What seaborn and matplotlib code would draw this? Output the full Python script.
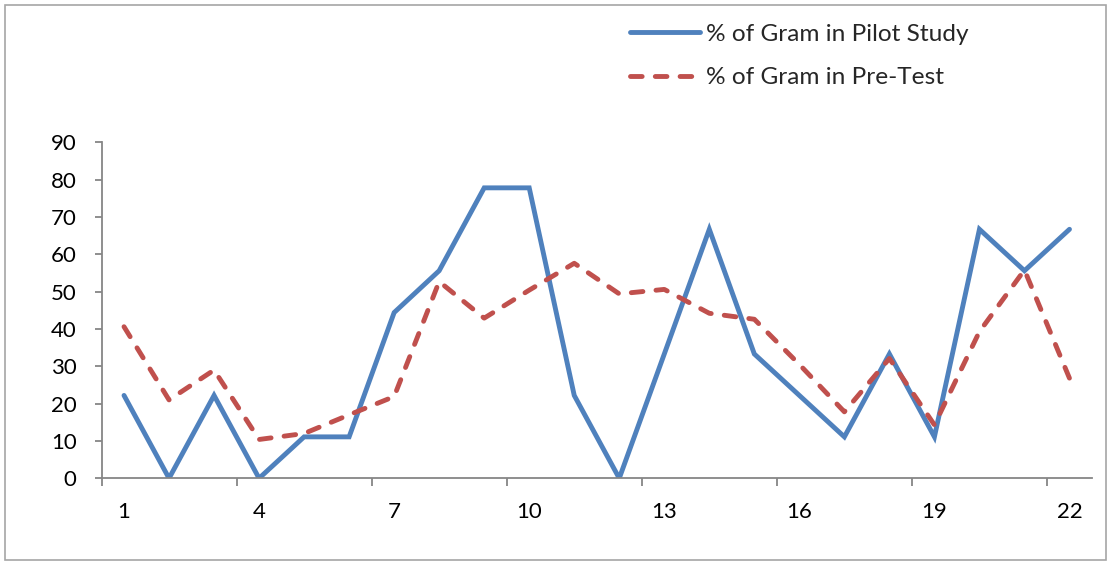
import numpy as np
import pandas as pd
import seaborn as sns
import matplotlib
matplotlib.use("Agg")
import matplotlib.pyplot as plt
from matplotlib.patches import Rectangle

# Item numbers and percentage of correct grammar answers per item
items = list(range(1, 23))
pilot_study = [22.2, 0, 22.2, 0, 11.1, 11.1, 44.4, 55.6, 77.8, 77.8, 22.2,
               0, 33.3, 66.7, 33.3, 22.2, 11.1, 33.3, 11.1, 66.7, 55.6, 66.7]
pre_test = [40.6, 21.0, 29.0, 10.4, 12.0, 17.0, 21.9, 52.7, 42.9, 50.4, 57.6,
            49.4, 50.6, 44.2, 42.6, 30.5, 17.8, 32.1, 14.3, 39.3, 55.8, 26.8]
series_names = ["% of Gram in Pilot Study", "% of Gram in Pre-Test"]
y_ticks = list(range(0, 91, 10))
x_tick_items = items[::3]

sns.set_theme(style="white")
plt.rcParams["font.family"] = ["Lato", "DejaVu Sans"]

df = pd.DataFrame({
    "item": items * 2,
    "value": pilot_study + pre_test,
    "series": [series_names[0]] * len(items) + [series_names[1]] * len(items),
})

W, H = 1110, 561
fig = plt.figure(figsize=(W / 100, H / 100), dpi=100)
left, right, top, bottom = 101.5, 1092, 142.3, 478.3
ax = fig.add_axes([left / W, (H - bottom) / H, (right - left) / W, (bottom - top) / H])

palette = {series_names[0]: "#4F81BD", series_names[1]: "#C0504D"}
dashes = {series_names[0]: "", series_names[1]: (2.4, 2.7)}
sns.lineplot(data=df, x="item", y="value", hue="series", style="series",
             palette=palette, dashes=dashes, linewidth=3.5,
             dash_capstyle="round", solid_capstyle="round",
             solid_joinstyle="miter", ax=ax)

ax.set_xlim(0.5, 22.5)
ax.set_ylim(0, 90)
ax.set_xlabel("")
ax.set_ylabel("")

axis_grey = "#868686"
for side in ["top", "right"]:
    ax.spines[side].set_visible(False)
for side in ["left", "bottom"]:
    ax.spines[side].set_color(axis_grey)
    ax.spines[side].set_linewidth(1.3)

ax.set_yticks(y_ticks)
ax.tick_params(axis="y", which="major", length=5, width=1.3, color=axis_grey,
               direction="out", pad=13, labelsize=16, labelcolor="black", left=True)
ax.set_xticks(x_tick_items)
ax.set_xticklabels([str(i) for i in x_tick_items])
ax.set_xticks([i - 0.5 for i in x_tick_items], minor=True)
ax.tick_params(axis="x", which="major", length=0, pad=17, labelsize=16, labelcolor="black")
ax.tick_params(axis="x", which="minor", length=6, width=1.3, color=axis_grey,
               direction="out", bottom=True)

handles, labels = ax.get_legend_handles_labels()
ax.get_legend().remove()
for h in handles:
    h.set_linewidth(3.5)
    h.set_dash_capstyle("round")
    h.set_solid_capstyle("round")
fig.legend(handles, labels, loc="upper left",
           bbox_to_anchor=(630 / W, 1 - 23.5 / H), frameon=False,
           fontsize=17.6, handlelength=2.87, handletextpad=0.24,
           labelspacing=0.93, borderpad=0, borderaxespad=0)

# Outer chart border
fig.patches.append(Rectangle((5 / W, 1.5 / H), (1106 - 5) / W, (556 - 1.5) / H,
                             transform=fig.transFigure, fill=False,
                             edgecolor="#A6A6A6", linewidth=1.2))

fig.savefig("out.png", dpi=100)
